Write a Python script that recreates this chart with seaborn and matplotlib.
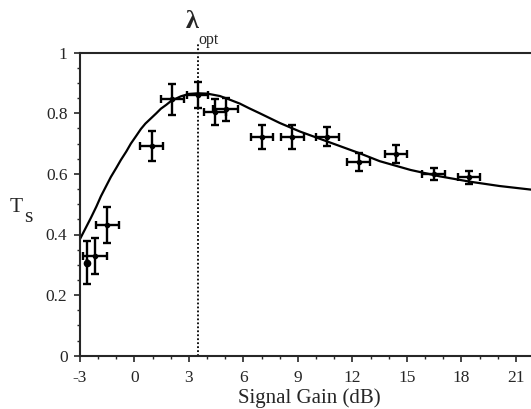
#!/usr/bin/env python3
# -*- coding: utf-8 -*-
import numpy as np
import pandas as pd
import matplotlib
matplotlib.use("Agg")
import matplotlib.pyplot as plt
from matplotlib.ticker import MultipleLocator
import seaborn as sns

# measured points (signal gain in dB, Ts)
gain_db = [-2.63, -2.18, -1.50, 0.94, 2.09, 3.47, 4.42, 5.02, 7.02, 8.69,
           10.61, 12.35, 14.40, 16.47, 18.43]
ts_meas = [0.307, 0.330, 0.431, 0.693, 0.846, 0.860, 0.804, 0.813, 0.723,
           0.723, 0.723, 0.640, 0.666, 0.599, 0.589]
ts_err = [0.070, 0.060, 0.060, 0.050, 0.052, 0.042, 0.042, 0.038, 0.040,
          0.040, 0.031, 0.030, 0.030, 0.020, 0.021]
gain_err = [0.0, 0.64, 0.63, 0.64, 0.62, 0.60, 0.62, 0.69, 0.62, 0.62,
            0.63, 0.63, 0.62, 0.62, 0.60]

# theory curve
curve_db = [-3.0, -2.7, -2.4, -2.1, -1.85, -1.55, -1.3, -1.0, -0.75, -0.45,
            -0.2, 0.1, 0.35, 0.6, 0.9, 1.2, 1.45, 1.75, 2.0, 2.3, 2.55,
            3.0, 3.5, 4.0, 4.7, 5.2, 5.8, 6.3, 6.9, 8.0, 9.1, 10.2, 11.3,
            12.4, 13.5, 15.2, 16.8, 18.5, 20.1, 21.85]
curve_ts = [0.385, 0.420, 0.455, 0.492, 0.526, 0.561, 0.590, 0.620, 0.646,
            0.674, 0.700, 0.726, 0.748, 0.766, 0.783, 0.800, 0.815, 0.828,
            0.840, 0.849, 0.856, 0.864, 0.866, 0.865, 0.857, 0.846, 0.832,
            0.817, 0.800, 0.768, 0.740, 0.716, 0.692, 0.668, 0.642, 0.613,
            0.592, 0.574, 0.560, 0.548]

lambda_opt = 3.47

sns.set_style("ticks")
plt.rcParams["font.family"] = ["Liberation Serif", "DejaVu Serif"]
plt.rcParams["axes.linewidth"] = 1.5
plt.rcParams["axes.unicode_minus"] = False

W, H = 531, 409
fig = plt.figure(figsize=(W / 100, H / 100), dpi=100)
ax = fig.add_axes([80 / W, 1 - 355.7 / H, (W - 80) / W, (355.7 - 52.7) / H])

curve = pd.DataFrame({"gain": curve_db, "ts": curve_ts})
sns.lineplot(data=curve, x="gain", y="ts", color="black", lw=1.6, ax=ax,
             sort=False, clip_on=False)

ax.errorbar(gain_db, ts_meas, yerr=ts_err, xerr=gain_err, fmt="o",
            color="black", ms=3, elinewidth=1.7, capsize=2.8,
            capthick=1.7, zorder=3)
ax.plot(gain_db[0], ts_meas[0], "o", color="black", ms=4.5, zorder=4)

ax.plot([lambda_opt, lambda_opt], [0, 1.033], ls=(0, (1, 1.2)),
        color="black", lw=1.3, clip_on=False, zorder=2)

ax.set_xlim(-3, 21.83)
ax.set_ylim(0, 1)
ax.xaxis.set_major_locator(MultipleLocator(3))
ax.xaxis.set_minor_locator(MultipleLocator(1))
ax.yaxis.set_minor_locator(MultipleLocator(0.05))
ax.set_yticks([0, 0.2, 0.4, 0.6, 0.8, 1])
ax.set_yticklabels(["0", "0.2", "0.4", "0.6", "0.8", "1"])

ax.tick_params(which="major", length=4, width=1.2, labelsize=12.5)
ax.tick_params(axis="x", which="major", pad=6)
ax.tick_params(axis="y", which="major", pad=5)
ax.tick_params(which="minor", length=2.5, width=1.0)

ax.spines["right"].set_visible(False)
ax.set_xlabel("")
ax.set_ylabel("")

fig.text(309 / W, 1 - 398 / H, "Signal Gain (dB)", ha="center",
         va="center", fontsize=15)
fig.text(10 / W, 1 - 212 / H, "T", ha="left", va="baseline", fontsize=15.5)
fig.text(24 / W, 1 - 222 / H, "s", ha="left", va="baseline", fontsize=15.5)
fig.text(186 / W, 1 - 28 / H, "λ", ha="left", va="baseline", fontsize=19,
         fontweight="bold")
fig.text(198 / W, 1 - 44 / H, "opt", ha="left", va="baseline", fontsize=11.5)

fig.savefig("out.png", dpi=100)
